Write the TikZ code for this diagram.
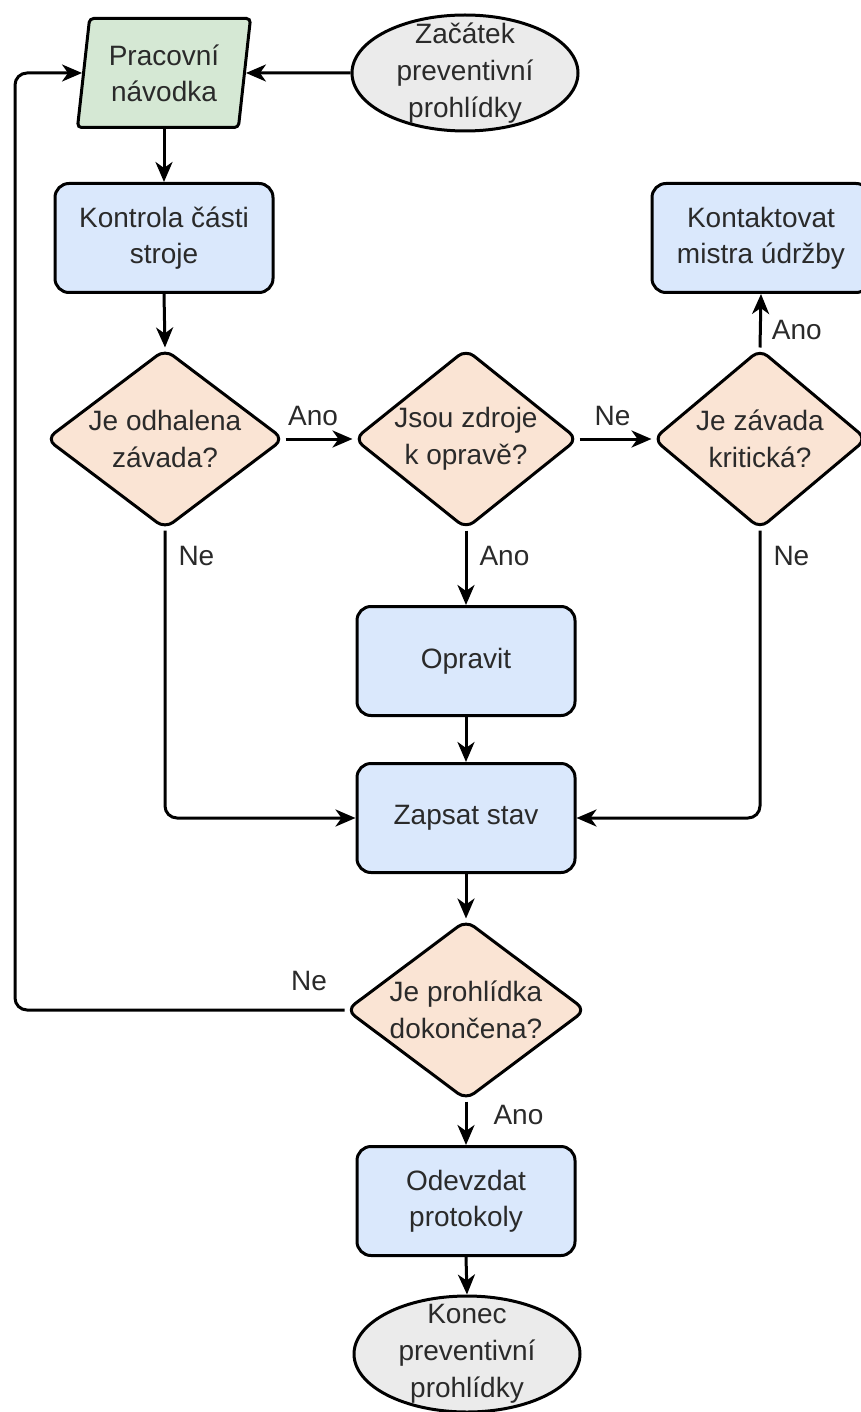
\documentclass[tikz,border=0pt]{standalone}
\usepackage{fontspec}
\setmainfont{Liberation Sans}
\usetikzlibrary{shapes.geometric,arrows.meta}
\definecolor{txt}{HTML}{2A2A2A}
\definecolor{procfill}{HTML}{DAE8FC}
\definecolor{decfill}{HTML}{FAE4D4}
\definecolor{iofill}{HTML}{D5E8D4}
\definecolor{termfill}{HTML}{EBEBEB}
\begin{document}
\begin{tikzpicture}[x=1pt,y=-1pt,
  base/.style={draw=black, line width=3pt, text=txt,
    font=\fontsize{28}{36}\selectfont, align=center, inner sep=0pt},
  proc/.style={base, rectangle, rounded corners=14pt, fill=procfill,
    minimum width=218pt, minimum height=109pt},
  dec/.style={base, diamond, fill=decfill, rounded corners=10pt,
    minimum height=180pt},
  term/.style={base, ellipse, fill=termfill, minimum width=226pt,
    minimum height=116pt},
  io/.style={base, trapezium, trapezium left angle=78,
    trapezium right angle=102, trapezium stretches body,
    rounded corners=4pt, fill=iofill, minimum width=173pt,
    minimum height=109pt},
  inner/.style={text=txt, font=\fontsize{28}{37}\selectfont,
    align=center, inner sep=0pt},
  flow/.style={line width=3pt, rounded corners=12pt,
    -{Stealth[length=20pt,width=17pt,inset=6pt]}},
  lbl/.style={text=txt, font=\fontsize{28}{36}\selectfont, inner sep=0pt}
]
\useasboundingbox[fill=white] (0,0) rectangle (860,1412);

% shapes
\node[io] (pn) at (164,73) {Pracovní\\návodka};
\node[term, label={[inner]center:Začátek\\preventivní\\prohlídky}] (start) at (465,73) {};
\node[proc] (kontrola) at (164,238) {Kontrola části\\stroje};
\node[proc] (kontakt) at (761,238) {Kontaktovat\\mistra údržby};
\node[dec, minimum width=238pt, label={[inner]center:Je odhalena\\závada?}] (d1) at (165,439) {};
\node[dec, minimum width=224pt, label={[inner]center:Jsou zdroje\\k opravě?}] (d2) at (466,439) {};
\node[dec, minimum width=214pt, label={[inner]center:Je závada\\kritická?}] (d3) at (760,439) {};
\node[proc] (opravit) at (466,661) {Opravit};
\node[proc] (zapsat) at (466,818) {Zapsat stav};
\node[dec, minimum width=240pt, label={[inner]center:Je prohlídka\\dokončena?}] (d4) at (466,1010) {};
\node[proc] (odevzdat) at (466,1201) {Odevzdat\\protokoly};
\node[term, label={[inner]center:Konec\\preventivní\\prohlídky}] (konec) at (467,1354) {};

\coordinate (loopx) at (15,500);

% connectors
\draw[flow] (start.west) -- (pn.east);
\draw[flow] (pn.south -| kontrola.north) -- (kontrola.north);
\draw[flow] (kontrola.south) -- (d1.north);
\draw[flow] (d1.east) -- node[lbl, above=12pt, xshift=-6pt] (l1) {Ano} (d2.west);
\draw[flow] (d2.east) -- node[lbl, above=12pt, xshift=-3pt] (l2) {Ne} (d3.west);
\draw[flow] (d3.north) -- node[lbl, pos=0.32, right=10pt] (l3) {Ano} (kontakt.south);
\draw[flow] (d1.south) |- node[lbl, at start, anchor=north west, shift={(12,14)}] (l4) {Ne} (zapsat.west);
\draw[flow] (d2.south) -- node[lbl, at start, anchor=north west, shift={(12,14)}] (l5) {Ano} (opravit.north);
\draw[flow] (d3.south) |- node[lbl, at start, anchor=north west, shift={(12,14)}] (l6) {Ne} (zapsat.east);
\draw[flow] (opravit.south) -- (zapsat.north);
\draw[flow] (zapsat.south) -- (d4.north);
\draw[flow] (d4.west) -| node[lbl, at start, anchor=south east, shift={(-16,-18)}] (l7) {Ne} (loopx) |- (pn.west);
\draw[flow] (d4.south) -- node[lbl, at start, anchor=north west, shift={(26,2)}] (l8) {Ano} (odevzdat.north);
\draw[flow] (odevzdat.south) -- (konec.north);
\end{tikzpicture}
\end{document}
